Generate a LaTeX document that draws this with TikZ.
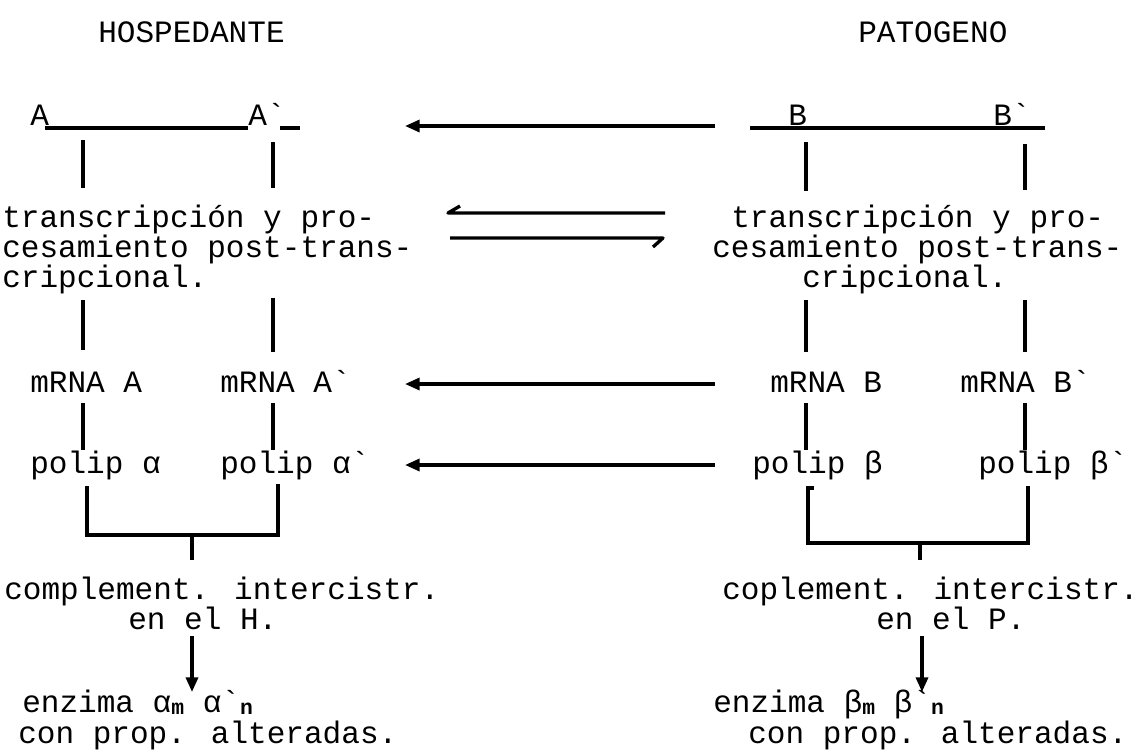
\documentclass[tikz,border=0pt]{standalone}
\usepackage{fontspec}
\newfontfamily\tw{Liberation Mono}
\usetikzlibrary{arrows.meta}
\newcommand\bq{\char96\relax}
\newcommand\lo[1]{\raisebox{-0.15ex}{\fontsize{16}{16}\selectfont\bfseries #1}}
\begin{document}
\begin{tikzpicture}[x=0.75pt,y=-0.75pt,
  txt/.style={font=\tw\fontsize{23.3}{30}\selectfont, inner sep=0pt, anchor=base west},
  ln/.style={line width=2.5pt},
  arr/.style={line width=2.5pt, -{Triangle[length=11pt,width=9pt]}}]
\useasboundingbox (0,0) rectangle (1138,750);
% headings
\node[txt] (host) at (98,42) {HOSPEDANTE};
\node[txt] (pat) at (858,42) {PATOGENO};
% genes
\node[txt] (A) at (30,125) {A};
\node[txt] (Ap) at (248,125) {A\bq};
\node[txt] (B) at (788,125) {B};
\node[txt] (Bp) at (993,125) {B\bq};
\draw[ln] (45,128) -- (248,128);
\draw[ln] (280,128) -- (300,128);
\draw[ln] (750,128) -- (1045,128);
% transcription
\node[txt] (lt1) at (2,227) {transcripción y pro-};
\node[txt] (lt2) at (2,257) {cesamiento post-trans-};
\node[txt] (lt3) at (2,287) {cripcional.};
\node[txt] (rt1) at (731,227) {transcripción y pro-};
\node[txt] (rt2) at (712,257) {cesamiento post-trans-};
\node[txt] (rt3) at (802,287) {cripcional.};
% mRNA
\node[txt] (lmA) at (30,392) {mRNA A};
\node[txt] (lmAp) at (220,392) {mRNA A\bq};
\node[txt] (rmB) at (770,392) {mRNA B};
\node[txt] (rmBp) at (960,392) {mRNA B\bq};
% polypeptides
\node[txt] (pa) at (30,473) {polip α};
\node[txt] (pap) at (220,473) {polip α\bq};
\node[txt] (pb) at (752,473) {polip β};
\node[txt] (pbp) at (978,473) {polip β\bq};
% complementation
\node[txt] (lc1) at (4,599) {complement. intercistr.};
\node[txt] (lc2) at (128,629) {en el H.};
\node[txt] (rc1) at (722,599) {coplement. intercistr.};
\node[txt] (rc2) at (876,629) {en el P.};
% enzymes
\node[txt] (le1) at (22,712) {enzima α\lo{m} α\bq\lo{n}};
\node[txt] (le2) at (18,743) {con prop. alteradas.};
\node[txt] (re1) at (713,712) {enzima β\lo{m} β\bq\lo{n}};
\node[txt] (re2) at (748,743) {con prop. alteradas.};
% vertical connectors
\draw[ln] (83,140) -- (83,188);
\draw[ln] (273,142) -- (273,188);
\draw[ln] (806,142) -- (806,191);
\draw[ln] (1025,144) -- (1025,190);
\draw[ln] (83,300) -- (83,350);
\draw[ln] (273,298) -- (273,352);
\draw[ln] (806,300) -- (806,352);
\draw[ln] (1025,300) -- (1025,352);
\draw[ln] (83,403) -- (83,450);
\draw[ln] (273,403) -- (273,450);
\draw[ln] (806,403) -- (806,450);
\draw[ln] (1025,403) -- (1025,450);
% brackets
\draw[ln] (87,486) -- (87,535) -- (278,535) -- (278,484);
\draw[ln] (192,535) -- (192,560);
\draw[ln] (814,488) -- (808,488) -- (808,543) -- (1028,543) -- (1028,486);
\draw[ln] (920,543) -- (920,560);
% downward arrows
\coordinate (ld1) at (192,636); \coordinate (ld2) at (192,692);
\coordinate (rd1) at (922,636); \coordinate (rd2) at (922,692);
\draw[arr] (ld1) -- (ld2);
\draw[arr] (rd1) -- (rd2);
% horizontal arrows
\coordinate (h1a) at (715,126); \coordinate (h1b) at (405,126);
\coordinate (h3a) at (715,384); \coordinate (h3b) at (405,384);
\coordinate (h4a) at (715,465); \coordinate (h4b) at (405,465);
\draw[arr] (h1a) -- (h1b);
\draw[arr] (h3a) -- (h3b);
\draw[arr] (h4a) -- (h4b);
% harpoons
\coordinate (q1) at (665,213); \coordinate (q2) at (448,213);
\coordinate (q3) at (450,238); \coordinate (q4) at (663,238);
\draw[ln, line join=round] (q1) -- (q2) -- ++(12,-7);
\draw[ln, line join=round] (q3) -- (q4) -- ++(-10,9);
\end{tikzpicture}
\end{document}
